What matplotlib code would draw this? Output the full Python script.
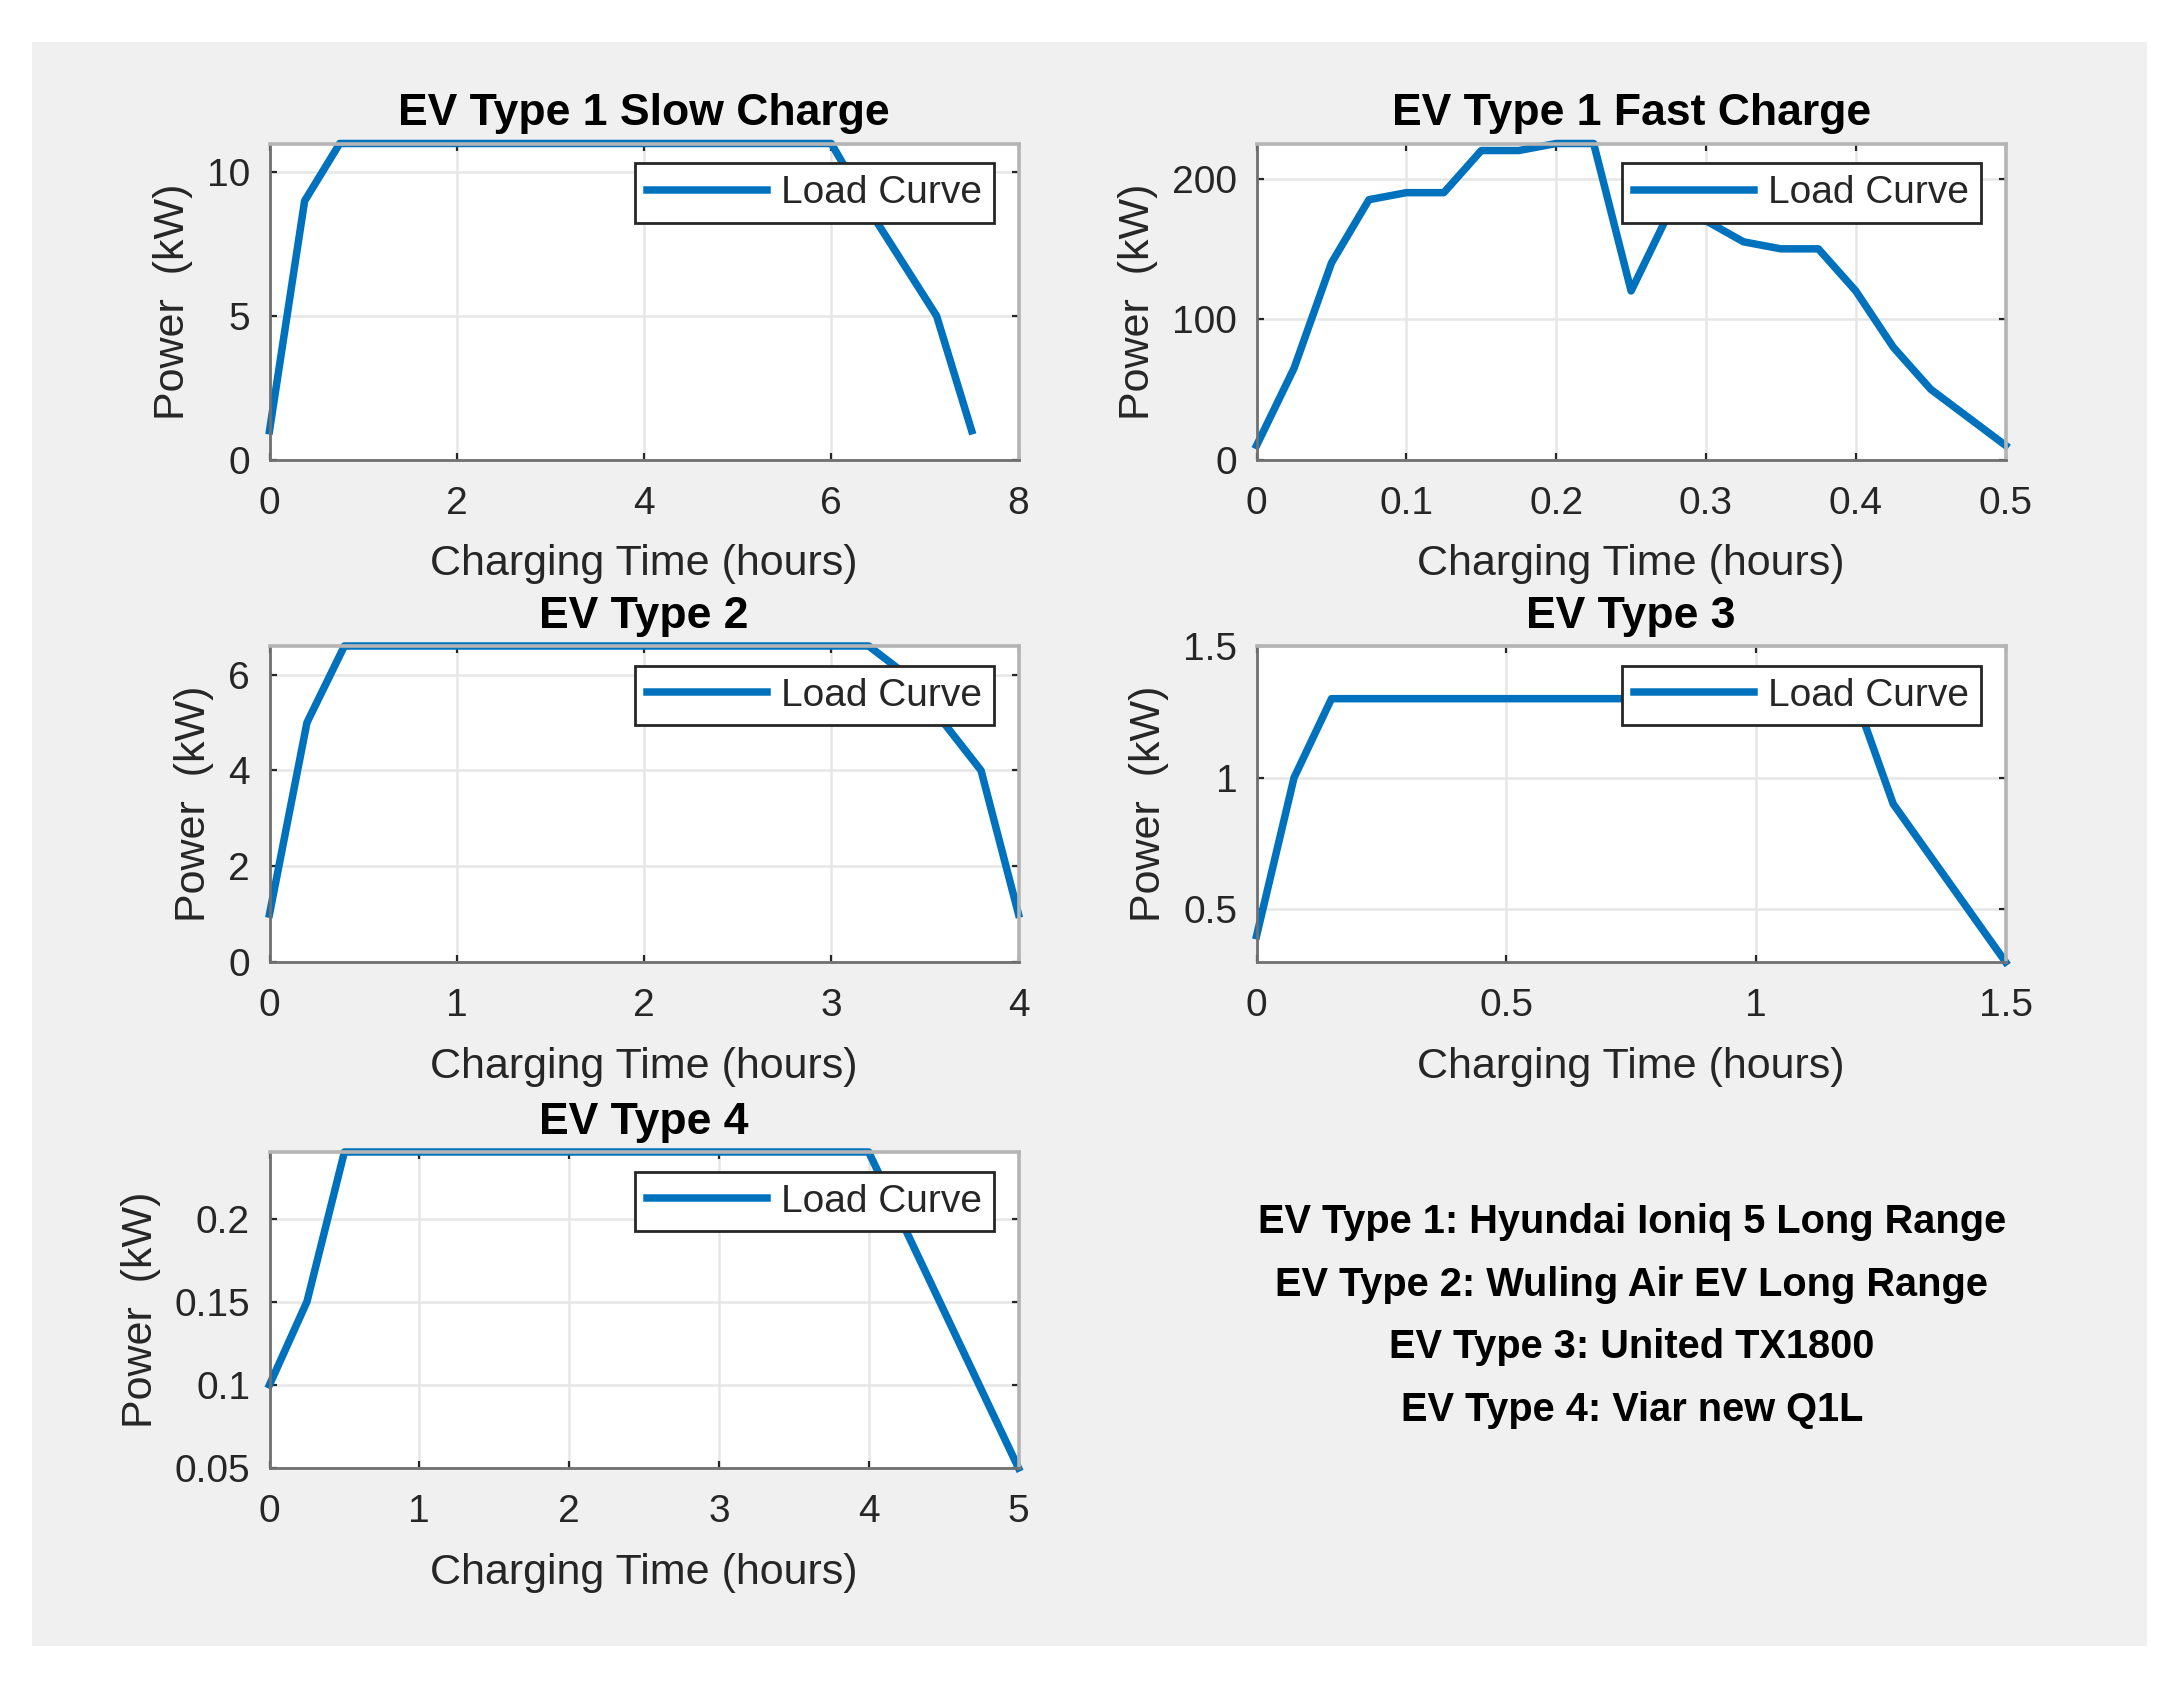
import numpy as np
import matplotlib
matplotlib.use('Agg')
import matplotlib.pyplot as plt
import matplotlib.ticker as mtick
from matplotlib.patches import Rectangle

plt.rcParams['font.family'] = ['Liberation Sans', 'DejaVu Sans']

# EV Type 1 slow charge
slow_t = [0, 0.375, 0.75, 6.0, 6.5, 7.125, 7.5]
slow_p = [1, 9, 11, 11, 8.2, 5, 1]

# EV Type 1 fast charge
fast_t = [0, 0.025, 0.05, 0.075, 0.1, 0.125, 0.15, 0.175, 0.2, 0.225, 0.25,
          0.275, 0.3, 0.325, 0.35, 0.375, 0.4, 0.425, 0.45, 0.475, 0.5]
fast_p = [10, 65, 140, 185, 190, 190, 220, 220, 225, 225, 120,
          175, 170, 155, 150, 150, 120, 80, 50, 30, 10]

# EV Type 2
t2_t = [0, 0.2, 0.4, 3.2, 3.4, 3.8, 4.0]
t2_p = [1, 5, 6.6, 6.6, 6.0, 4, 1]

# EV Type 3
t3_t = [0, 0.075, 0.15, 1.2, 1.275, 1.5]
t3_p = [0.4, 1.0, 1.3, 1.3, 0.9, 0.3]

# EV Type 4
t4_t = [0, 0.25, 0.5, 4.0, 5.0]
t4_p = [0.1, 0.15, 0.24, 0.24, 0.05]

titles = ['EV Type 1 Slow Charge', 'EV Type 1 Fast Charge',
          'EV Type 2', 'EV Type 3', 'EV Type 4']
x_ticks = [[0, 2, 4, 6, 8], [0, 0.1, 0.2, 0.3, 0.4, 0.5],
           [0, 1, 2, 3, 4], [0, 0.5, 1, 1.5], [0, 1, 2, 3, 4, 5]]
y_ticks = [[0, 5, 10], [0, 100, 200], [0, 2, 4, 6],
           [0.5, 1, 1.5], [0.05, 0.1, 0.15, 0.2]]
y_lims = [(0, 11), (0, 225), (0, 6.6), (0.3, 1.5), (0.05, 0.24)]

ev_names = ['EV Type 1: Hyundai Ioniq 5 Long Range',
            'EV Type 2: Wuling Air EV Long Range',
            'EV Type 3: United TX1800',
            'EV Type 4: Viar new Q1L']

series = [(slow_t, slow_p), (fast_t, fast_p), (t2_t, t2_p),
          (t3_t, t3_p), (t4_t, t4_p)]

W, H = 2182, 1686
fig = plt.figure(figsize=(W / 200, H / 200), dpi=200, facecolor='white')
# grey MATLAB-like figure panel inside a white border
fig.patches.append(Rectangle((32 / W, 1 - 1646 / H), (2147 - 32) / W,
                             (1646 - 42) / H, transform=fig.transFigure,
                             facecolor='#f0f0f0', edgecolor='none', zorder=-10))

# axes boxes in pixels (left, top)
ax_w, ax_h = 749, 316
boxes = [(269.5, 143.5), (1256.6, 143.5), (269.5, 646), (1256.6, 646),
         (269.5, 1152)]

blue = '#0072BD'
fmt = mtick.FuncFormatter(lambda v, p: f'{v:g}')

for i, (left, top) in enumerate(boxes):
    ax = fig.add_axes([left / W, 1 - (top + ax_h) / H, ax_w / W, ax_h / H])
    t, p = series[i]
    ax.plot(t, p, color=blue, lw=2.7, label='Load Curve', clip_on=False)
    ax.set_xlim(x_ticks[i][0], x_ticks[i][-1])
    ax.set_ylim(*y_lims[i])
    ax.set_xticks(x_ticks[i])
    ax.set_yticks(y_ticks[i])
    ax.xaxis.set_major_formatter(fmt)
    ax.yaxis.set_major_formatter(fmt)
    ax.grid(True, color='#e6e6e6', lw=0.9)
    ax.set_axisbelow(True)
    for side in ['left', 'bottom']:
        ax.spines[side].set_color('#707070')
        ax.spines[side].set_linewidth(1.0)
    for side in ['top', 'right']:
        ax.spines[side].set_color('#b4b4b4')
        ax.spines[side].set_linewidth(1.3)
    ax.tick_params(direction='in', length=2.5, width=0.8, color='#262626',
                   labelsize=14, labelcolor='#262626', top=True, right=True)
    ax.tick_params(axis='x', pad=9.5)
    ax.tick_params(axis='y', pad=7)
    ax.set_title(titles[i], fontsize=16, fontweight='bold', pad=6.5)
    ax.set_xlabel('Charging Time (hours)', fontsize=15.5, color='#262626',
                  labelpad=8)
    ax.set_ylabel('Power  (kW)', fontsize=15.5, color='#262626', labelpad=5)
    leg = ax.legend(loc='upper right', bbox_to_anchor=(1 - 25 / ax_w, 1 - 20 / ax_h),
                    borderaxespad=0, fontsize=14, handlelength=3.1,
                    handletextpad=0.35, borderpad=0.3, fancybox=False,
                    framealpha=1, edgecolor='#262626')
    leg.get_frame().set_linewidth(1.0)
    for txt in leg.get_texts():
        txt.set_color('#262626')

line_y = [1222, 1285, 1347, 1410]
for name, yy in zip(ev_names, line_y):
    fig.text(1631.7 / W, 1 - yy / H, name, ha='center', va='center',
             fontsize=14.3, fontweight='bold')

fig.savefig('out.png', dpi=200, facecolor='white')
